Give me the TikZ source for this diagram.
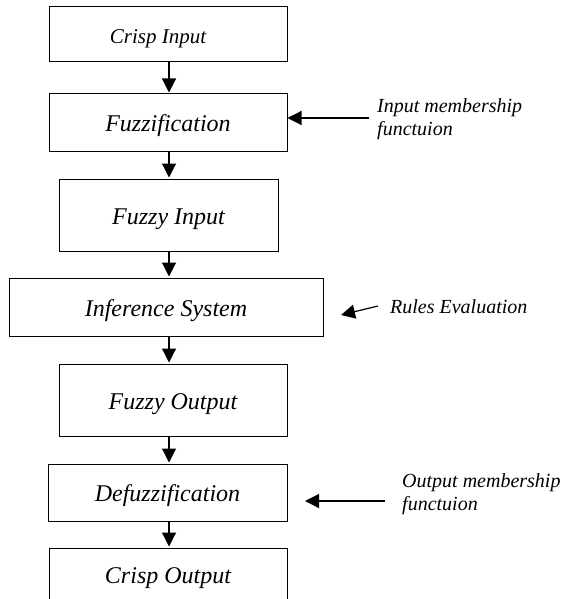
\documentclass[tikz,border=0pt]{standalone}
\usepackage{fontspec}
\setmainfont{Liberation Serif}
\usetikzlibrary{arrows.meta}
\begin{document}
\begin{tikzpicture}[x=1pt,y=-1pt,
  stage/.style={draw=black, line width=1pt, inner sep=0pt,
    text height=18pt, text depth=0pt,
    font=\fontsize{24}{28}\selectfont\itshape},
  note/.style={inner sep=0pt, align=left,
    font=\fontsize{20}{23}\selectfont\itshape},
  flow/.style={line width=1.2pt, -{Triangle[length=14pt,width=14pt]}},
]
\useasboundingbox (0,0) rectangle (572,599);

% processing stages
\node[stage, minimum width=238pt, minimum height=55pt,
      font=\fontsize{21}{25}\selectfont\itshape] (ci) at (168,34.5) {Crisp Input\hspace*{20pt}};
\node[stage, minimum width=238pt, minimum height=57pt] (fz) at (168,122.5) {Fuzzification};
\node[stage, minimum width=219pt, minimum height=72pt] (fi) at (168.5,215) {Fuzzy Input};
\node[stage, minimum width=314pt, minimum height=58pt] (is) at (166,307) {Inference System};
\node[stage, minimum width=228pt, minimum height=72pt] (fo) at (173,400) {Fuzzy Output};
\node[stage, minimum width=239pt, minimum height=57pt] (df) at (167.5,492.5) {Defuzzification};
\node[stage, minimum width=238pt, minimum height=53pt] (co) at (168,574.5) {Crisp Output};

% flow between stages
\coordinate (axis) at (169,0);
\foreach \a/\b in {ci/fz, fz/fi, fi/is, is/fo, fo/df, df/co}
  \draw[flow, shorten >=1pt] (\a.south -| axis) -- (\b.north -| axis);

% side annotations
\node[note, anchor=west] (im) at (377,118.7) {Input membership\\functuion};
\node[note, anchor=base west] (re) at (390,313) {Rules Evaluation};
\node[note, anchor=west] (om) at (402,493.7) {Output membership\\functuion};

\coordinate (imtail) at (369,118);
\draw[flow] (imtail) -- (imtail -| fz.east);

\coordinate (retail) at (378,306);
\coordinate (retip) at (341,315);
\draw[flow] (retail) -- (retip);

\coordinate (omtail) at (385,501);
\coordinate (omtip) at (305,501);
\draw[flow] (omtail) -- (omtip);
\end{tikzpicture}
\end{document}
